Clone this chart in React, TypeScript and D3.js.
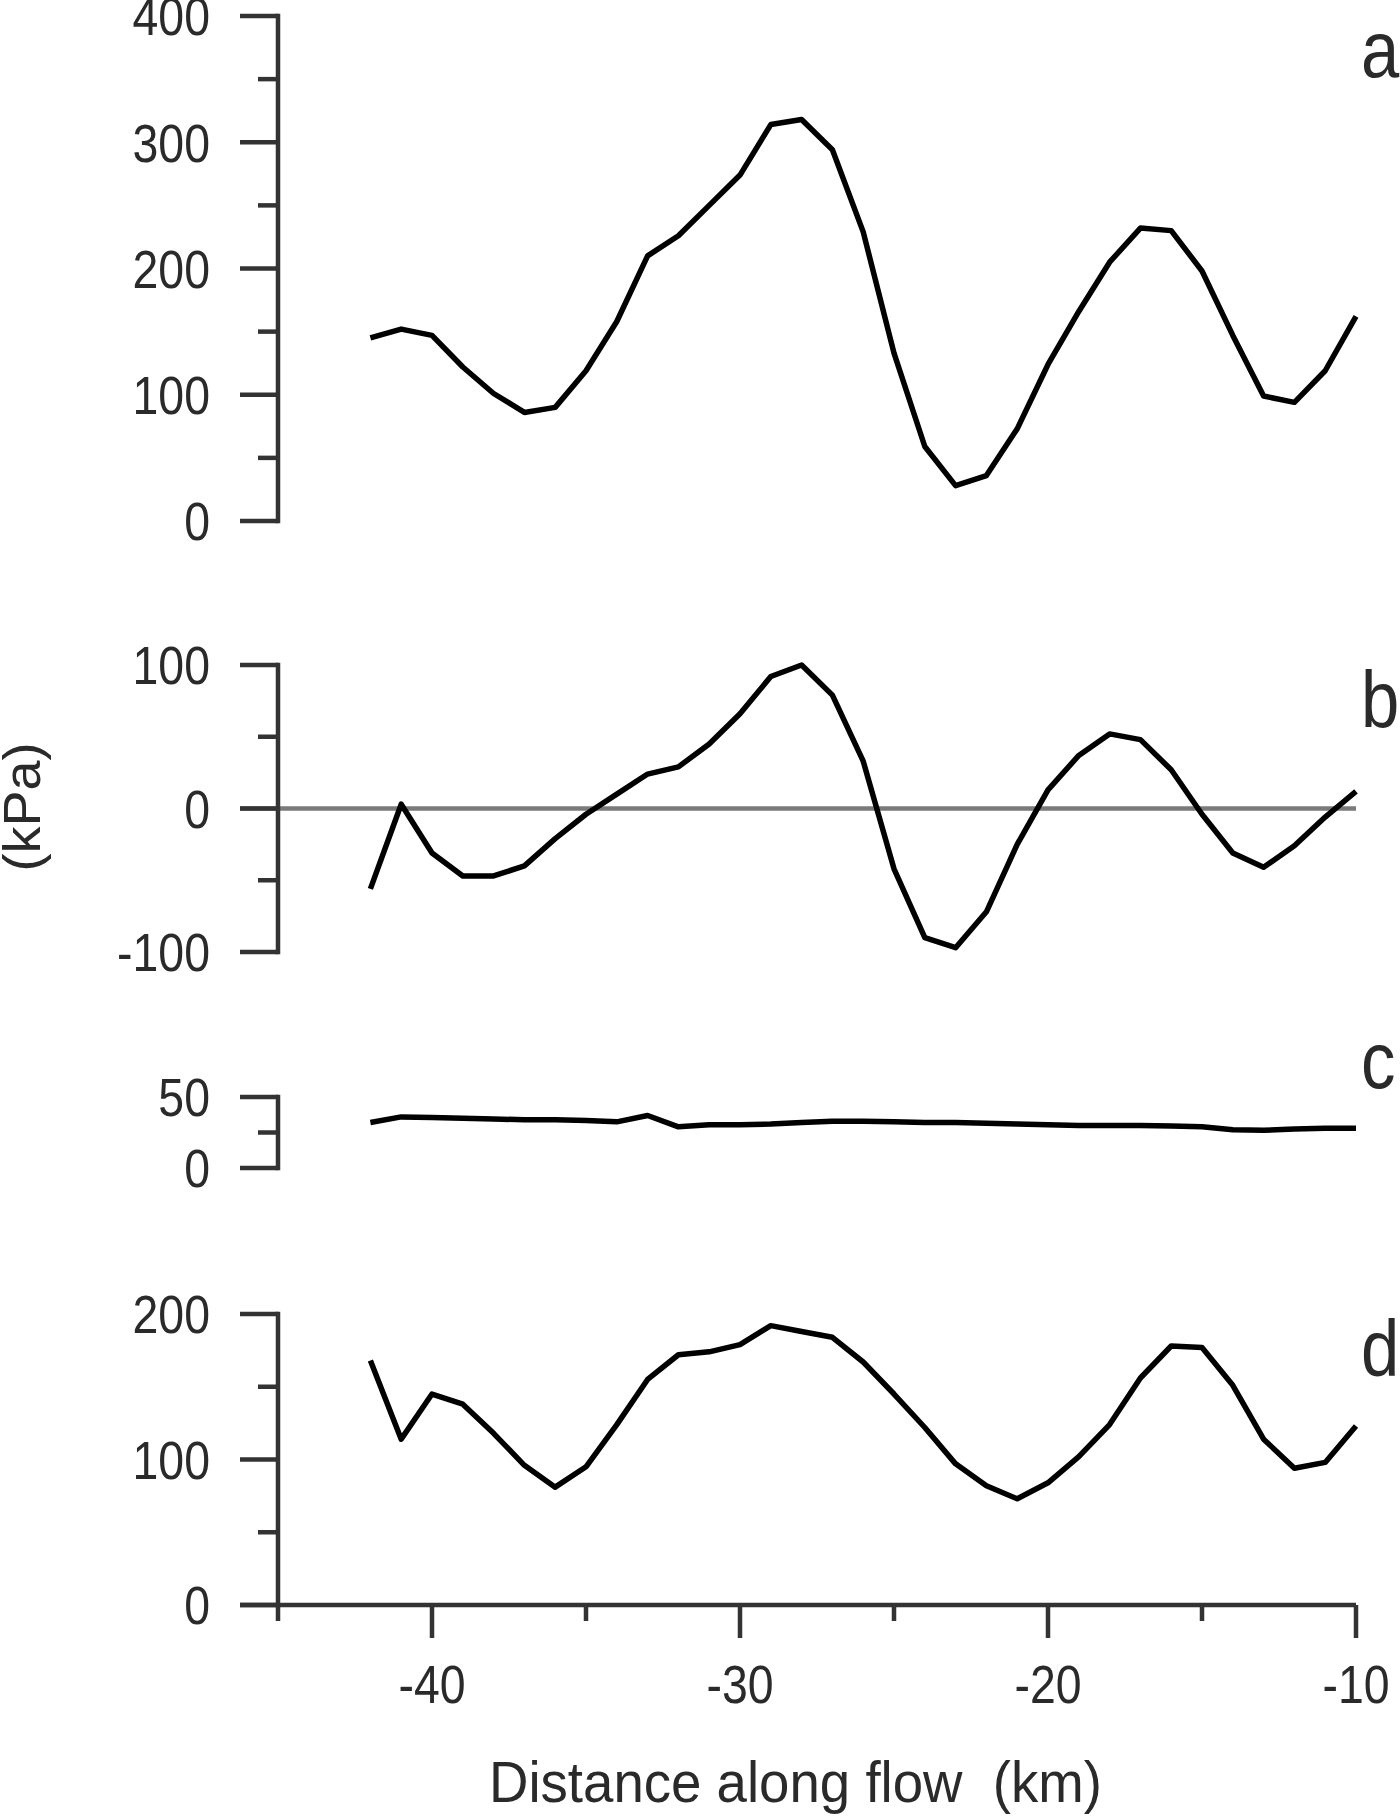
import React from "react";
import * as d3 from "d3";

// ---- data ----
const km = [-42, -41, -40, -39, -38, -37, -36, -35, -34, -33, -32, -31, -30, -29, -28, -27, -26, -25, -24, -23, -22, -21, -20, -19, -18, -17, -16, -15, -14, -13, -12, -11, -10];

const seriesA = [145, 152, 147, 122, 101, 86, 90, 119, 158, 210, 226, 250, 274, 314, 318, 294, 229, 133, 59, 28, 36, 73, 124, 166, 205, 232, 230, 198, 147, 99, 94, 119, 162];
const seriesB = [-56, 3, -31, -47, -47, -40, -21, -4, 10, 24, 29, 45, 66, 92, 100, 79, 33, -42, -90, -97, -72, -25, 13, 37, 52, 48, 27, -4, -31, -41, -26, -6, 12];
const seriesC = [32, 36, 35.5, 35, 34.5, 34, 34, 33.5, 32.5, 37, 29, 30.5, 30.5, 31, 32, 33, 33, 32.5, 32, 32, 31.5, 31, 30.5, 30, 30, 30, 29.5, 29, 27, 26.5, 27.5, 28, 28];
const seriesD = [168, 114, 145, 138, 118, 96, 81, 95, 124, 155, 172, 174, 179, 192, 188, 184, 167, 145, 122, 97, 82, 73, 84, 102, 124, 156, 178, 177, 151, 114, 94, 98, 123];

const xMajorTicks = [-40, -30, -20, -10];
const xMinorTicks = [-45, -35, -25, -15];

const ticksA = [0, 100, 200, 300, 400];
const minorA = [50, 150, 250, 350];
const ticksB = [-100, 0, 100];
const minorB = [-50, 50];
const ticksC = [0, 50];
const minorC = [25];
const ticksD = [0, 100, 200];
const minorD = [50, 150];

const letters = ["a", "b", "c", "d"];

// ---- layout ----
const W = 1400;
const H = 1816;
const AXIS_X = 278;
const RIGHT_X = 1356;
const FONT = "'Liberation Sans', Arial, Helvetica, sans-serif";
const TEXT = "#2a2a2a";
const AXIS = "#333";
const AXIS_W = 4.5;

const x = d3.scaleLinear().domain([-45, -10]).range([AXIS_X, RIGHT_X]);

const panels = [
  { values: seriesA, ticks: ticksA, minor: minorA, domain: [0, 400], range: [521, 16], letterY: 77 },
  { values: seriesB, ticks: ticksB, minor: minorB, domain: [-100, 100], range: [952, 665], letterY: 727, zero: true },
  { values: seriesC, ticks: ticksC, minor: minorC, domain: [0, 50], range: [1168, 1097], letterY: 1088 },
  { values: seriesD, ticks: ticksD, minor: minorD, domain: [0, 200], range: [1605, 1314], letterY: 1376, xAxis: true },
];

function Label({ x: lx, y: ly, text, anchor = "end", size = 54, sx = 0.86, dy = "0.36em" }) {
  return (
    <g transform={`translate(${lx},${ly}) scale(${sx},1)`}>
      <text textAnchor={anchor} dy={dy} fontSize={size} fontFamily={FONT} fill={TEXT}>
        {text}
      </text>
    </g>
  );
}

function Panel({ p, i }) {
  const y = d3.scaleLinear().domain(p.domain).range(p.range);
  const line = d3
    .line<number>()
    .x((_, k) => x(km[k]))
    .y((v) => y(v));
  const top = y(p.domain[1]);
  const bottom = y(p.domain[0]);
  return (
    <g>
      {p.zero && (
        <line x1={240} x2={RIGHT_X} y1={y(0)} y2={y(0)} stroke="#7a7a7a" strokeWidth={4.5} />
      )}
      <line x1={AXIS_X} x2={AXIS_X} y1={top} y2={bottom} stroke={AXIS} strokeWidth={AXIS_W} strokeLinecap="square" />
      {p.ticks.map((t) => (
        <g key={"t" + t}>
          <line x1={240} x2={AXIS_X} y1={y(t)} y2={y(t)} stroke={AXIS} strokeWidth={AXIS_W} />
          <Label x={210} y={y(t)} text={String(t)} />
        </g>
      ))}
      {p.minor.map((t) => (
        <line key={"m" + t} x1={258} x2={AXIS_X} y1={y(t)} y2={y(t)} stroke={AXIS} strokeWidth={AXIS_W} />
      ))}
      <path d={line(p.values) || ""} fill="none" stroke="#000" strokeWidth={5.5} strokeLinejoin="round" />
      <Label x={1361} y={p.letterY} text={letters[i]} anchor="start" size={80} sx={0.86} dy="0" />
      {p.xAxis && (
        <g>
          <line x1={240} x2={RIGHT_X} y1={bottom} y2={bottom} stroke={AXIS} strokeWidth={AXIS_W} />
          {xMajorTicks.map((t) => (
            <g key={"x" + t}>
              <line x1={x(t)} x2={x(t)} y1={bottom} y2={bottom + 33} stroke={AXIS} strokeWidth={AXIS_W} />
              <Label x={x(t)} y={1703} text={String(t)} anchor="middle" dy="0" />
            </g>
          ))}
          {xMinorTicks.map((t) => (
            <line key={"xm" + t} x1={x(t)} x2={x(t)} y1={bottom} y2={bottom + 16} stroke={AXIS} strokeWidth={AXIS_W} />
          ))}
        </g>
      )}
    </g>
  );
}

export default function App() {
  return (
    <svg width={W} height={H} viewBox={`0 0 ${W} ${H}`} style={{ position: "absolute", left: 0, top: 0, background: "#fff" }}>
      <rect x={0} y={0} width={W} height={H} fill="#fff" />
      {panels.map((p, i) => (
        <Panel key={i} p={p} i={i} />
      ))}
      <text
        transform={`translate(40,807) rotate(-90)`}
        textAnchor="middle"
        fontSize={52}
        fontFamily={FONT}
        fill={TEXT}
        textLength={129}
        lengthAdjust="spacingAndGlyphs"
      >
        (kPa)
      </text>
      <text
        x={489}
        y={1802}
        fontSize={57}
        fontFamily={FONT}
        fill={TEXT}
        textLength={613}
        lengthAdjust="spacingAndGlyphs"
        style={{ whiteSpace: "pre" }}
      >
        {"Distance along flow  (km)"}
      </text>
    </svg>
  );
}
